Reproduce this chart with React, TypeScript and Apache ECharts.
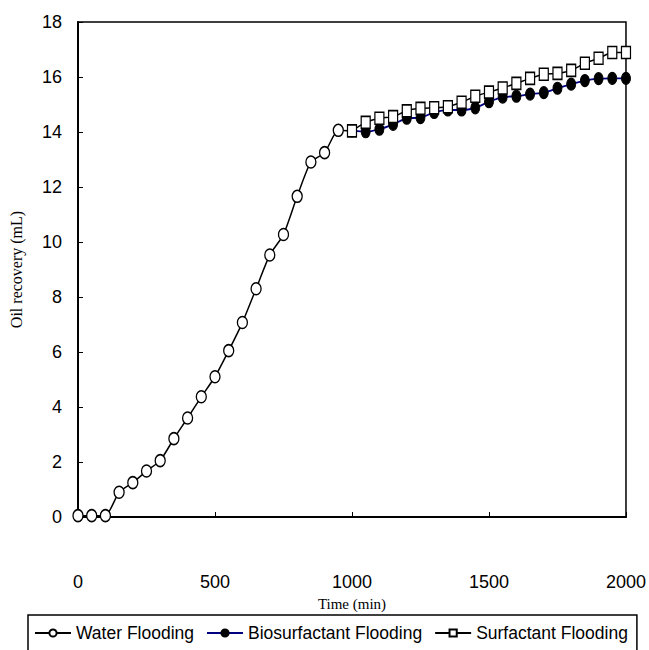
import React, { useEffect, useRef } from "react";
import * as echarts from "echarts";

const waterTime = [0, 50, 100, 150, 200, 250, 300, 350, 400, 450, 500, 550, 600, 650, 700, 750, 800, 850, 900, 950, 1000];
const waterRecovery = [0.05, 0.05, 0.05, 0.9, 1.25, 1.67, 2.05, 2.85, 3.6, 4.37, 5.1, 6.05, 7.07, 8.3, 9.53, 10.27, 11.66, 12.91, 13.25, 14.06, 14.04];

const laterTime = [1000, 1050, 1100, 1150, 1200, 1250, 1300, 1350, 1400, 1450, 1500, 1550, 1600, 1650, 1700, 1750, 1800, 1850, 1900, 1950, 2000];
const bioRecovery = [14.04, 14.01, 14.1, 14.28, 14.5, 14.52, 14.71, 14.8, 14.8, 14.88, 15.1, 15.27, 15.3, 15.38, 15.43, 15.59, 15.74, 15.87, 15.94, 15.95, 15.95];
const surfRecovery = [14.04, 14.35, 14.5, 14.56, 14.77, 14.86, 14.88, 14.92, 15.08, 15.3, 15.45, 15.6, 15.77, 15.95, 16.1, 16.13, 16.24, 16.5, 16.68, 16.89, 16.89];

const seriesNames = ["Water Flooding", "Biosurfactant Flooding", "Surfactant Flooding"];

const ELLIPSE = "path://M5,0A5,6 0 1,1 5,12A5,6 0 1,1 5,0Z";
const SANS = "'Liberation Sans Narrow', 'Arial Narrow', 'Liberation Sans', Arial, sans-serif";
const SERIF = "'Liberation Serif', 'Times New Roman', serif";

export default function App() {
  const ref = useRef<HTMLDivElement>(null);
  useEffect(() => {
    if (!ref.current) return;
    const chart = echarts.init(ref.current, null, { renderer: "svg" });
    const waterData = waterTime.map((t, i) =>
      i === waterTime.length - 1 ? { value: [t, waterRecovery[i]], symbol: "none" } : [t, waterRecovery[i]]
    );
    chart.setOption({
      animation: false,
      backgroundColor: "#fff",
      grid: {
        left: 76,
        right: 22,
        top: 22,
        bottom: 133,
        show: true,
        borderColor: "#000",
        borderWidth: 1.5,
        containLabel: false,
      },
      legend: {
        data: seriesNames,
        left: 28,
        top: 615,
        padding: [9, 9, 20, 6],
        itemGap: 12,
        itemWidth: 36,
        itemHeight: 9,
        borderColor: "#000",
        borderWidth: 1.5,
        textStyle: { fontFamily: SANS, fontSize: 17.5, color: "#000" },
      },
      xAxis: {
        type: "value",
        min: 0,
        max: 2000,
        interval: 500,
        name: "Time (min)",
        nameLocation: "middle",
        nameGap: 79,
        nameTextStyle: { fontFamily: SERIF, fontSize: 15, color: "#000" },
        axisLine: { show: true, lineStyle: { color: "#000", width: 2 } },
        axisTick: { show: true, inside: true, length: 5, lineStyle: { color: "#000", width: 1 } },
        axisLabel: {
          margin: 56,
          fontFamily: SANS,
          fontSize: 18,
          color: "#000",
          formatter: (v: number) => String(v),
        },
        splitLine: { show: false },
      },
      yAxis: {
        type: "value",
        min: 0,
        max: 18,
        interval: 2,
        name: "Oil recovery (mL)",
        nameLocation: "middle",
        nameGap: 54,
        nameTextStyle: { fontFamily: SERIF, fontSize: 16, color: "#000" },
        axisLine: { show: true, lineStyle: { color: "#000", width: 2 } },
        axisTick: { show: true, inside: true, length: 5, lineStyle: { color: "#000", width: 1 } },
        axisLabel: { margin: 16, fontFamily: SANS, fontSize: 18, color: "#000" },
        splitLine: { show: false },
      },
      series: [
        {
          name: seriesNames[0],
          type: "line",
          data: waterData,
          smooth: 0.2,
          symbol: ELLIPSE,
          symbolSize: [10, 12],
          lineStyle: { color: "#000", width: 1.5 },
          itemStyle: { color: "#fff", borderColor: "#000", borderWidth: 1.4 },
          z: 2,
        },
        {
          name: seriesNames[1],
          type: "line",
          data: laterTime.map((t, i) => [t, bioRecovery[i]]),
          smooth: 0.2,
          symbol: ELLIPSE,
          symbolSize: [9, 12],
          lineStyle: { color: "#000080", width: 1.8 },
          itemStyle: { color: "#000", borderColor: "#000", borderWidth: 1 },
          z: 3,
        },
        {
          name: seriesNames[2],
          type: "line",
          data: laterTime.map((t, i) => [t, surfRecovery[i]]),
          smooth: 0.2,
          symbol: "rect",
          symbolSize: [9, 12],
          lineStyle: { color: "#000", width: 1.5 },
          itemStyle: { color: "#fff", borderColor: "#000", borderWidth: 1.4 },
          z: 4,
        },
      ],
    });
    return () => chart.dispose();
  }, []);
  return (
    <div
      ref={ref}
      style={{ position: "fixed", left: 0, top: 0, width: 649, height: 650, background: "#fff" }}
    />
  );
}
